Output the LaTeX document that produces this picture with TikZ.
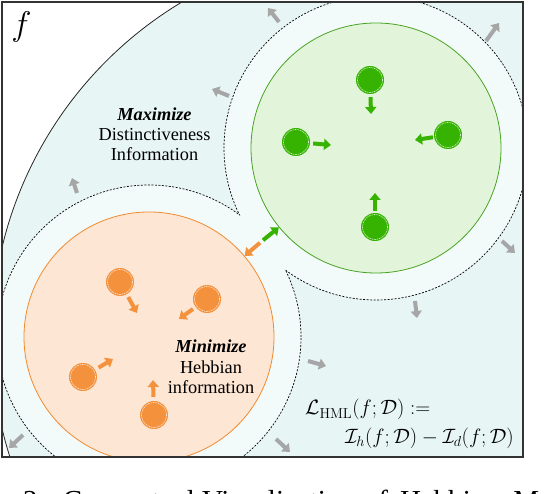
\documentclass[tikz,border=0pt]{standalone}
\usepackage[no-math]{fontspec}
\setmainfont{Liberation Serif}
\usetikzlibrary{arrows.meta}
\definecolor{tealA}{HTML}{E7F5F4}
\definecolor{tealB}{HTML}{F3FAFA}
\definecolor{gfill}{HTML}{E2F5DA}
\definecolor{gline}{HTML}{4AA424}
\definecolor{gdot}{HTML}{36B300}
\definecolor{ofill}{HTML}{FDE6D3}
\definecolor{oline}{HTML}{F08B30}
\definecolor{odot}{HTML}{F4913D}
\definecolor{garrow}{HTML}{A6A6A6}
\begin{document}
\begin{tikzpicture}[x=1pt,y=-1pt,
  fat/.style={line width=4pt,-{Triangle[width=11pt,length=7pt]}},
  grayarr/.style={fat,draw=garrow,fill=garrow},
  greenarr/.style={fat,draw=gdot,fill=gdot,shorten <=3pt},
  orangearr/.style={fat,draw=odot,fill=odot,shorten <=3pt},
  dotbase/.style={circle,inner sep=0pt,minimum size=28pt,
    path picture={\draw[white,line width=0.5pt,dash pattern=on 1pt off 0.8pt]
      (path picture bounding box.center) circle (12.6pt);}},
  gdotst/.style={dotbase,fill=gdot},
  odotst/.style={dotbase,fill=odot},
  dashedge/.style={line width=0.7pt,dash pattern=on 2pt off 1.5pt},
  txt/.style={font=\fontsize{18.3}{20}\selectfont,inner sep=0pt,anchor=base},
  mth/.style={font=\fontsize{20}{24}\selectfont,inner sep=0pt,anchor=base west}
]
\useasboundingbox (0,0) rectangle (544,494);
\fill[white] (0,0) rectangle (544,494);

\begin{scope}
  \clip (2,2) rectangle (523,457);
  % large outer region
  \fill[tealA] (383,338) circle (391.5pt);
  \draw[line width=0.8pt,black!85] (383,338) circle (391.5pt);
  % dilated regions (union)
  \fill[tealB] (376,148) circle (152pt) (149,337) circle (152pt);
  \begin{scope}[even odd rule]
    \clip (0,0) rectangle (544,494) (149,337) circle (152pt);
    \draw[dashedge] (376,148) circle (152pt);
  \end{scope}
  \begin{scope}[even odd rule]
    \clip (0,0) rectangle (544,494) (376,148) circle (152pt);
    \draw[dashedge] (149,337) circle (152pt);
  \end{scope}
  % clusters
  \node[circle,inner sep=0pt,minimum size=250pt,fill=gfill,draw=gline,line width=0.8pt] (G) at (376,148) {};
  \node[circle,inner sep=0pt,minimum size=250pt,fill=ofill,draw=oline,line width=0.8pt] (O) at (149,337) {};
\end{scope}

% frame
\draw[line width=1.3pt,black!80] (2,2) rectangle (523,457);

% green dots and arrows
\node[gdotst] (g1) at (370,80) {};
\node[gdotst] (g2) at (296,142) {};
\node[gdotst] (g3) at (448,135) {};
\node[gdotst] (g4) at (375,227) {};
\coordinate (g1h) at (371,114);
\coordinate (g2h) at (331,145);
\coordinate (g3h) at (415,140);
\coordinate (g4h) at (375,193);
\draw[greenarr] (g1) -- (g1h);
\draw[greenarr] (g2) -- (g2h);
\draw[greenarr,shorten <=1pt] (g3) -- (g3h);
\draw[greenarr,shorten <=2pt] (g4) -- (g4h);

% orange dots and arrows
\node[odotst] (o1) at (120,282) {};
\node[odotst] (o2) at (207,299) {};
\node[odotst] (o3) at (83,377) {};
\node[odotst] (o4) at (154,415) {};
\coordinate (o1h) at (137,313);
\coordinate (o2h) at (179,319);
\coordinate (o3h) at (113,359);
\coordinate (o4h) at (153,380);
\draw[orangearr] (o1) -- (o1h);
\draw[orangearr] (o2) -- (o2h);
\draw[orangearr,shorten <=4pt] (o3) -- (o3h);
\draw[orangearr,shorten <=4pt] (o4) -- (o4h);

% bridge arrows
\coordinate (mid) at (261.5,241.5);
\draw[fat,draw=gdot,fill=gdot,shorten <=2pt] (mid) -- (G);
\draw[fat,draw=odot,fill=odot,shorten <=2pt] (mid) -- (O);

% gray outward arrows
\coordinate (a1t) at (279,22);  \coordinate (a1h) at (268,8);
\coordinate (a2t) at (486,41);  \coordinate (a2h) at (499,23);
\coordinate (a3t) at (229,96);  \coordinate (a3h) at (212,89);
\coordinate (a4t) at (77,193);  \coordinate (a4h) at (72,178);
\coordinate (a5t) at (502,241); \coordinate (a5h) at (515,253);
\coordinate (a6t) at (415,301); \coordinate (a6h) at (417,318);
\coordinate (a7t) at (308,361); \coordinate (a7h) at (326,366);
\coordinate (a8t) at (276,439); \coordinate (a8h) at (290,452);
\coordinate (a9t) at (23,435);  \coordinate (a9h) at (9,448);
\foreach \i in {1,...,9} {\draw[grayarr] (a\i t) -- (a\i h);}

% texts
\node[inner sep=0pt,anchor=base west,font=\fontsize{20.74}{24}\selectfont,scale=1.65] (fl) at (11,36) {$f$};
\node[txt] (mx1) at (154.5,121) {\textbf{\textit{Maximize}}};
\node[txt] (mx2) at (154.5,141) {Distinctiveness};
\node[txt] (mx3) at (154.5,161) {Information};
\node[txt] (mn1) at (211,353) {\textbf{\textit{Minimize}}};
\node[txt] (mn2) at (211,373.5) {Hebbian};
\node[txt] (mn3) at (211,393.5) {information};
\node[mth] (eq1) at (305,415) {$\mathcal{L}_{\mathrm{HML}}(f;\mathcal{D}) :=$};
\node[mth,anchor=base east] (eq2) at (514,443) {$\mathcal{I}_h(f;\mathcal{D}) - \mathcal{I}_d(f;\mathcal{D})$};

% cut caption (only the tops of its letters are visible)
\begin{scope}
  \clip (0,0) rectangle (544,494);
  \node[inner sep=0pt,anchor=base west,font=\fontsize{29}{32}\selectfont] (cap) at (23,510)
    {2.\hspace{18pt}Conceptual\hspace{7pt}Visualization\hspace{9pt}of\hspace{12pt}Hebbian\hspace{15pt}M};
\end{scope}
\end{tikzpicture}
\end{document}
